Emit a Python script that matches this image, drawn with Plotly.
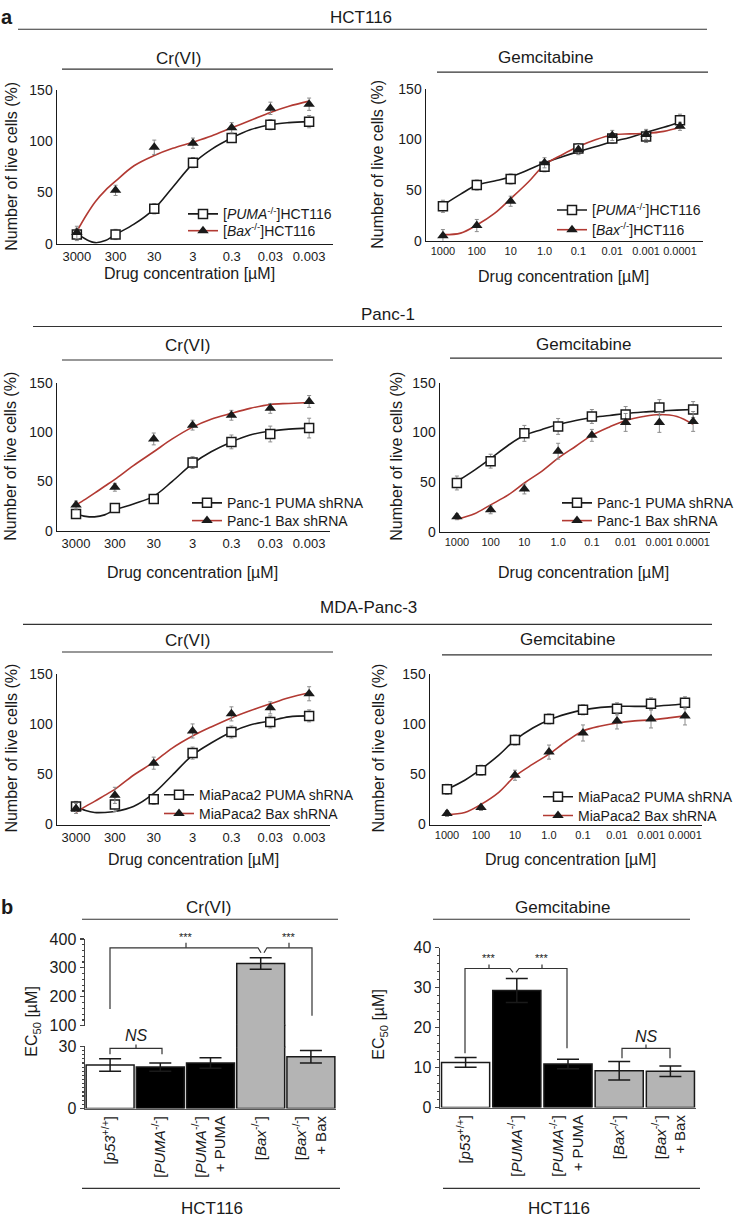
import plotly.graph_objects as go

W, H = 739, 1226
FONT = "Liberation Sans, Arial, Helvetica, sans-serif"
INK = "#1a1a1a"
RED = "#b23a33"
ERRC = "#8c8c8c"
BAR_GREY = "#b4b4b4"


def X(px):
    return px / W


def Y(py):
    return 1 - py / H


# ------------------------------------------------------------------ data
CR_CONC = [3000, 300, 30, 3, 0.3, 0.03, 0.003]
CR_TICKTEXT = ["3000", "300", "30", "3", "0.3", "0.03", "0.003"]
GEM_CONC = [1000, 100, 10, 1.0, 0.1, 0.01, 0.001, 0.0001]
GEM_TICKTEXT = ["1000", "100", "10", "1.0", "0.1", "0.01", "0.001", "0.0001"]
CR_FIT_CONC = [3000, 1700, 1000, 550, 300, 100, 30, 10, 3, 1, 0.3, 0.1, 0.03, 0.01, 0.003]
GEM_FIT_CONC = [1000, 300, 100, 30, 10, 3, 1, 0.3, 0.1, 0.03, 0.01, 0.003, 0.001, 0.0003, 0.0001]

# HCT116 - Cr(VI)
HCT_CR_PUMA = [9, 9, 34, 79, 103, 116, 119]
HCT_CR_PUMA_ERR = [6, 5, 5, 5, 4, 5, 6]
HCT_CR_BAX = [11, 52, 94, 98, 113, 132, 136]
HCT_CR_BAX_ERR = [6, 5, 7, 5, 5, 6, 6]
HCT_CR_PUMA_FIT = [10, 4, 1, 3, 9, 19, 34, 55, 78, 92, 103, 111, 116, 118, 119]
HCT_CR_BAX_FIT = [12, 28, 41, 52, 61, 76, 86, 93, 99, 105, 113, 120, 128, 134, 139]
# HCT116 - Gemcitabine
HCT_GEM_PUMA = [34, 55, 61, 73, 91, 101, 103, 119]
HCT_GEM_PUMA_ERR = [6, 5, 5, 5, 5, 5, 6, 6]
HCT_GEM_BAX = [5, 15, 39, 77, 90, 104, 105, 113]
HCT_GEM_BAX_ERR = [6, 6, 5, 5, 5, 5, 5, 4]
HCT_GEM_PUMA_FIT = [35, 46, 55, 59, 63, 70, 77, 83, 88, 93, 98, 102, 107, 112, 117]
HCT_GEM_BAX_FIT = [6, 7.5, 15.5, 27, 41.5, 58, 75, 85, 93, 100, 104.5, 105.5, 106, 108, 112]

# Panc-1 - Cr(VI)
PANC_CR_PUMA = [17, 23, 32, 69, 90, 98, 104]
PANC_CR_PUMA_ERR = [4, 4, 4, 6, 7, 8, 10]
PANC_CR_BAX = [26, 44, 93, 107, 117, 124, 131]
PANC_CR_BAX_ERR = [4, 4, 6, 5, 5, 5, 6]
PANC_CR_PUMA_FIT = [17, 14.5, 14, 16, 21, 27, 35, 50, 68, 80, 90, 97, 101, 103, 104]
PANC_CR_BAX_FIT = [26, 32, 38, 45, 52, 66, 80, 93, 105, 113, 119, 124, 128, 129, 130]
# Panc-1 - Gemcitabine
PANC_GEM_PUMA = [49, 71, 99, 106, 116, 118, 125, 123]
PANC_GEM_PUMA_ERR = [7, 7, 8, 8, 7, 8, 8, 8]
PANC_GEM_BAX = [15, 22, 43, 81, 97, 110, 110, 111]
PANC_GEM_BAX_ERR = [3, 4, 5, 8, 6, 9, 10, 10]
PANC_GEM_PUMA_FIT = [50.5, 62, 73.6, 87, 97, 103, 108, 112, 115, 117, 119, 120.5, 121.5, 122.4, 123]
PANC_GEM_BAX_FIT = [12.5, 18, 27, 37, 49, 61, 74, 86, 97, 105.5, 112, 116, 118, 116, 108]

# MDA-Panc-3 - Cr(VI)
MIA_CR_PUMA = [18, 20, 25, 71, 92, 102, 108]
MIA_CR_PUMA_ERR = [5, 7, 5, 6, 6, 6, 6]
MIA_CR_BAX = [16, 29, 61, 93, 110, 116, 130]
MIA_CR_BAX_ERR = [5, 8, 6, 7, 7, 6, 7]
MIA_CR_PUMA_FIT = [18, 14, 12, 12, 13, 18, 31, 49, 69, 81, 92, 99, 103, 107, 108]
MIA_CR_BAX_FIT = [12, 18, 23, 29, 35, 49, 62, 76, 88, 97, 106, 113, 120, 126, 131]
# MDA-Panc-3 - Gemcitabine
MIA_GEM_PUMA = [35, 54, 84, 105, 114, 115, 120, 121]
MIA_GEM_PUMA_ERR = [5, 5, 5, 5, 5, 6, 6, 6]
MIA_GEM_BAX = [11, 17, 49, 72, 91, 103, 105, 108]
MIA_GEM_BAX_ERR = [3, 3, 5, 7, 8, 8, 9, 9]
MIA_GEM_PUMA_FIT = [35, 44, 55, 69, 84, 96, 104, 110, 114, 116.5, 117.5, 117.5, 117.5, 118.5, 120]
MIA_GEM_BAX_FIT = [10, 12, 20, 32, 48, 60, 70, 83, 93, 98, 101, 103, 104, 106, 108]

# Panel b - EC50 bars
BAR_CATS = ["p53", "PUMA", "PUMA+PUMA", "Bax", "Bax+Bax"]
BAR_TICKTEXT = [
    "[<i>p53</i><sup>+/+</sup>]",
    "[<i>PUMA</i><sup>-/-</sup>]",
    "[<i>PUMA</i><sup>-/-</sup>]<br>+ PUMA",
    "[<i>Bax</i><sup>-/-</sup>]",
    "[<i>Bax</i><sup>-/-</sup>]<br>+ Bax",
]
BAR_COLORS = ["white", "black", "black", BAR_GREY, BAR_GREY]
CR_EC50 = [21, 20, 22, 315, 25]
CR_EC50_ERR = [3, 2, 2.5, 20, 3]
GEM_EC50 = [11.3, 29.3, 10.9, 9.2, 9.1]
GEM_EC50_ERR = [1.2, 3, 1.2, 2.3, 1.3]

# ------------------------------------------------------------------ figure
fig = go.Figure()

panels = [
    dict(n=1, conc=CR_CONC, fit=CR_FIT_CONC, tt=CR_TICKTEXT, xd=(57, 333), yd=(83, 239), xr=(3.99, -3.14),
         p=HCT_CR_PUMA, pe=HCT_CR_PUMA_ERR, b=HCT_CR_BAX, be=HCT_CR_BAX_ERR,
         pf=HCT_CR_PUMA_FIT, bf=HCT_CR_BAX_FIT,
         names=("[<i>PUMA</i><sup>-/-</sup>]HCT116", "[<i>Bax</i><sup>-/-</sup>]HCT116"),
         leg=((223, 208), (223, 225)), xfs=13),
    dict(n=2, conc=GEM_CONC, fit=GEM_FIT_CONC, tt=GEM_TICKTEXT, xd=(426, 703), yd=(82, 236), xr=(3.5, -4.68),
         p=HCT_GEM_PUMA, pe=HCT_GEM_PUMA_ERR, b=HCT_GEM_BAX, be=HCT_GEM_BAX_ERR,
         pf=HCT_GEM_PUMA_FIT, bf=HCT_GEM_BAX_FIT,
         names=("[<i>PUMA</i><sup>-/-</sup>]HCT116", "[<i>Bax</i><sup>-/-</sup>]HCT116"),
         leg=((592, 204), (592, 224)), xfs=11),
    dict(n=3, conc=CR_CONC, fit=CR_FIT_CONC, tt=CR_TICKTEXT, xd=(57, 330), yd=(380, 530), xr=(3.967, -3.06),
         p=PANC_CR_PUMA, pe=PANC_CR_PUMA_ERR, b=PANC_CR_BAX, be=PANC_CR_BAX_ERR,
         pf=PANC_CR_PUMA_FIT, bf=PANC_CR_BAX_FIT,
         names=("Panc-1 PUMA shRNA", "Panc-1 Bax shRNA"),
         leg=((227, 501), (227, 519)), xfs=13),
    dict(n=4, conc=GEM_CONC, fit=GEM_FIT_CONC, tt=GEM_TICKTEXT, xd=(440, 710), yd=(380, 531), xr=(3.5, -4.5),
         p=PANC_GEM_PUMA, pe=PANC_GEM_PUMA_ERR, b=PANC_GEM_BAX, be=PANC_GEM_BAX_ERR,
         pf=PANC_GEM_PUMA_FIT, bf=PANC_GEM_BAX_FIT,
         names=("Panc-1 PUMA shRNA", "Panc-1 Bax shRNA"),
         leg=((597, 501), (597, 519)), xfs=11),
    dict(n=5, conc=CR_CONC, fit=CR_FIT_CONC, tt=CR_TICKTEXT, xd=(57, 330), yd=(675, 828), xr=(3.967, -3.06),
         p=MIA_CR_PUMA, pe=MIA_CR_PUMA_ERR, b=MIA_CR_BAX, be=MIA_CR_BAX_ERR,
         pf=MIA_CR_PUMA_FIT, bf=MIA_CR_BAX_FIT,
         names=("MiaPaca2 PUMA shRNA", "MiaPaca2 Bax shRNA"),
         leg=((199, 797), (199, 816)), xfs=13),
    dict(n=6, conc=GEM_CONC, fit=GEM_FIT_CONC, tt=GEM_TICKTEXT, xd=(430, 702), yd=(675, 828), xr=(3.5, -4.5),
         p=MIA_GEM_PUMA, pe=MIA_GEM_PUMA_ERR, b=MIA_GEM_BAX, be=MIA_GEM_BAX_ERR,
         pf=MIA_GEM_PUMA_FIT, bf=MIA_GEM_BAX_FIT,
         names=("MiaPaca2 PUMA shRNA", "MiaPaca2 Bax shRNA"),
         leg=((578, 799), (578, 818)), xfs=11),
]

layout_axes = {}
legends = {}
for P in panels:
    n = P["n"]
    xa, ya = f"x{n}", f"y{n}"
    # fitted curves
    fig.add_trace(go.Scatter(x=P["fit"], y=P["pf"], mode="lines", line=dict(color=INK, width=1.6, shape="spline", smoothing=1.0),
                             xaxis=xa, yaxis=ya, showlegend=False, hoverinfo="skip"))
    fig.add_trace(go.Scatter(x=P["fit"], y=P["bf"], mode="lines", line=dict(color=RED, width=1.6, shape="spline", smoothing=1.0),
                             xaxis=xa, yaxis=ya, showlegend=False, hoverinfo="skip"))
    # data points
    fig.add_trace(go.Scatter(x=P["conc"], y=P["p"], mode="markers",
                             marker=dict(symbol="square", size=9, color="white", line=dict(color=INK, width=1.5)),
                             error_y=dict(type="data", array=P["pe"], color=ERRC, thickness=1, width=2),
                             xaxis=xa, yaxis=ya, showlegend=False))
    fig.add_trace(go.Scatter(x=P["conc"], y=P["b"], mode="markers",
                             marker=dict(symbol="triangle-up", size=10, color=INK),
                             error_y=dict(type="data", array=P["be"], color=ERRC, thickness=1, width=2),
                             xaxis=xa, yaxis=ya, showlegend=False))
    # legend entries (one legend per entry for exact placement)
    l1 = "legend" if n == 1 else f"legend{2 * n - 1}"
    l2 = f"legend{2 * n}"
    fig.add_trace(go.Scatter(x=[None], y=[None], mode="lines+markers", name=P["names"][0],
                             line=dict(color=INK, width=1.6),
                             marker=dict(symbol="square", size=9, color="white", line=dict(color=INK, width=1.5)),
                             xaxis=xa, yaxis=ya, legend=l1, showlegend=True))
    fig.add_trace(go.Scatter(x=[None], y=[None], mode="lines+markers", name=P["names"][1],
                             line=dict(color=RED, width=1.6),
                             marker=dict(symbol="triangle-up", size=10, color=INK),
                             xaxis=xa, yaxis=ya, legend=l2, showlegend=True))
    for lid, (tx, cy) in zip((l1, l2), P["leg"]):
        legends[lid] = dict(x=X(tx - 40), y=Y(cy - 15), xanchor="left", yanchor="top",
                            bgcolor="rgba(0,0,0,0)", borderwidth=0, itemwidth=30,
                            font=dict(family=FONT, size=14, color=INK))
    xkey = "xaxis" if n == 1 else f"xaxis{n}"
    ykey = "yaxis" if n == 1 else f"yaxis{n}"
    layout_axes[xkey] = dict(domain=[X(P["xd"][0]), X(P["xd"][1])], type="log", range=list(P["xr"]),
                             tickmode="array", tickvals=P["conc"], ticktext=P["tt"], tickangle=0,
                             showline=True, linecolor=INK, linewidth=1.5, ticks="", showgrid=False,
                             zeroline=False, anchor=ya, tickfont=dict(size=P["xfs"], color=INK))
    layout_axes[ykey] = dict(domain=[Y(P["yd"][1]), Y(P["yd"][0])], range=[0, 150],
                             tickmode="array", tickvals=[0, 50, 100, 150],
                             showline=True, linecolor=INK, linewidth=1.5, ticks="", showgrid=False,
                             zeroline=False, anchor=xa, tickfont=dict(size=14, color=INK))

# ---- panel b left (Cr(VI)) : broken axis = lower y7, gap y9, upper y8, shared x7
for ya, err in (("y7", CR_EC50_ERR), ("y9", None), ("y8", CR_EC50_ERR)):
    fig.add_trace(go.Bar(x=BAR_CATS, y=CR_EC50, width=0.955,
                         marker=dict(color=BAR_COLORS, line=dict(color=INK, width=1.5)),
                         error_y=(dict(type="data", array=err, color=INK, thickness=1.5, width=11) if err else None),
                         xaxis="x7", yaxis=ya, showlegend=False))
# ---- panel b right (Gemcitabine)
fig.add_trace(go.Bar(x=BAR_CATS, y=GEM_EC50, width=0.94,
                     marker=dict(color=BAR_COLORS, line=dict(color=INK, width=1.5)),
                     error_y=dict(type="data", array=GEM_EC50_ERR, color=INK, thickness=1.5, width=11),
                     xaxis="x8", yaxis="y10", showlegend=False))

bar_x_common = dict(tickmode="array", tickvals=BAR_CATS, ticktext=BAR_TICKTEXT, tickangle=-90,
                    showline=True, linecolor="#555", linewidth=1.5, ticks="", showgrid=False, zeroline=False,
                    tickfont=dict(size=15, color=INK), range=[-0.5, 4.5])
bar_y_common = dict(showline=True, linecolor="#444", linewidth=1.5, ticks="outside", ticklen=4, tickwidth=1.2,
                    tickcolor="#444", showgrid=False, zeroline=False, tickfont=dict(size=16, color=INK))
layout_axes["xaxis7"] = dict(domain=[X(85), X(336)], anchor="y7", **bar_x_common)
layout_axes["yaxis7"] = dict(domain=[Y(1116), Y(1053)], range=[0, 30], tickvals=[0, 30], anchor="x7",
                             minor=dict(dtick=2, ticks="outside", ticklen=2, tickcolor="#444"), **bar_y_common)
layout_axes["yaxis8"] = dict(domain=[Y(1032), Y(944)], range=[100, 400], tickvals=[100, 200, 300, 400],
                             anchor="x7", minor=dict(dtick=20, ticks="outside", ticklen=2, tickcolor="#444"),
                             **bar_y_common)
layout_axes["yaxis9"] = dict(domain=[Y(1054), Y(1031)], range=[30, 100], visible=False, anchor="x7")
layout_axes["xaxis8"] = dict(domain=[X(440), X(696)], anchor="y10", **bar_x_common)
layout_axes["yaxis10"] = dict(domain=[Y(1115), Y(953)], range=[0, 40], tickvals=[0, 10, 20, 30, 40], anchor="x8",
                              minor=dict(dtick=2, ticks="outside", ticklen=2, tickcolor="#444"), **bar_y_common)

# ------------------------------------------------------------------ decorations
annotations = []
shapes = []


def text(px, py, s, size=16, angle=0, **kw):
    annotations.append(dict(x=X(px), y=Y(py), xref="paper", yref="paper", text=s, showarrow=False,
                            xanchor="center", yanchor="middle", textangle=angle,
                            font=dict(family=FONT, size=size, color=kw.pop("color", INK)), **kw))


def hline(py, x0, x1, color="#333", width=1.1):
    shapes.append(dict(type="line", xref="paper", yref="paper", x0=X(x0), x1=X(x1), y0=Y(py), y1=Y(py),
                       line=dict(color=color, width=width)))


def path(points, color="#333", width=1.2):
    d = "M" + " L".join(f"{X(a):.5f},{Y(b):.5f}" for a, b in points)
    shapes.append(dict(type="path", xref="paper", yref="paper", path=d, line=dict(color=color, width=width)))


text(7, 9, "<b>a</b>", size=20)
text(7, 912, "<b>b</b>", size=20)

# panel a headers
text(361, 10, "HCT116", size=17); hline(21.5, 18, 707)
text(178, 51, "Cr(VI)", size=17); hline(62, 62, 333)
text(545, 50, "Gemcitabine", size=17); hline(65, 437, 708)
text(388, 311, "Panc-1", size=17); hline(323, 33, 722)
text(187, 342, "Cr(VI)", size=17); hline(357, 62, 333)
text(583, 341, "Gemcitabine", size=17); hline(355, 450, 722)
text(368, 608, "MDA-Panc-3", size=17); hline(625, 23, 712)
text(187, 641, "Cr(VI)", size=17); hline(653, 62, 333)
text(567, 640, "Gemcitabine", size=17); hline(656, 442, 712)

# axis titles, panel a
for (xt, yt) in ((190, 269), (563, 272), (192, 572), (583, 572), (193, 863), (570, 863)):
    text(xt, yt, "Drug concentration [µM]", size=16)
for (xt, yt) in ((12, 161), (378, 159), (11, 455), (397, 455), (12, 751), (379, 751)):
    text(xt, yt, "Number of live cells (%)", size=16, angle=-90)

# panel b headers / titles
text(208, 912, "Cr(VI)", size=17); hline(924, 82, 338)
text(562, 912, "Gemcitabine", size=17); hline(924, 433, 690)
text(212, 1217, "HCT116", size=17); hline(1197, 82, 340)
text(559, 1217, "HCT116", size=17); hline(1197, 443, 700)
text(33, 1028, "EC<sub>50</sub> [µM]", angle=-90, size=16)
text(380, 1030, "EC<sub>50</sub> [µM]", angle=-90, size=16)

# significance brackets, left
path([(110, 1015), (110, 953), (258, 953), (261, 958)])
path([(264, 958), (267, 953), (312, 953), (312, 1022)])
path([(186, 953), (186, 948)])
path([(289, 953), (289, 948)])
text(186, 942, "***", size=11)
text(289, 942, "***", size=11)
path([(110, 1061), (110, 1055), (162, 1055), (162, 1061)])
path([(136, 1055), (136, 1051)])
text(136, 1042, "<i>NS</i>", size=16)
# significance brackets, right
path([(465, 1060), (465, 974), (510, 974), (513, 978)])
path([(516, 978), (519, 974), (567, 974), (567, 1055)])
path([(489, 974), (489, 970)])
path([(542, 974), (542, 970)])
text(489, 963, "***", size=11)
text(542, 963, "***", size=11)
path([(622, 1065), (622, 1055), (670, 1055), (670, 1065)])
path([(646, 1055), (646, 1051)])
text(646, 1043, "<i>NS</i>", size=16)

fig.update_layout(
    width=W, height=H, margin=dict(l=0, r=0, t=0, b=0),
    paper_bgcolor="white", plot_bgcolor="rgba(0,0,0,0)",
    font=dict(family=FONT, color=INK),
    showlegend=True, hovermode=False,
    annotations=annotations, shapes=shapes,
    **layout_axes, **legends,
)

fig.write_html("out.html",
               config={"displayModeBar": False, "staticPlot": True},
               post_script="document.body.style.margin='0';document.body.style.padding='0';"
                           "document.body.style.overflow='hidden';")
